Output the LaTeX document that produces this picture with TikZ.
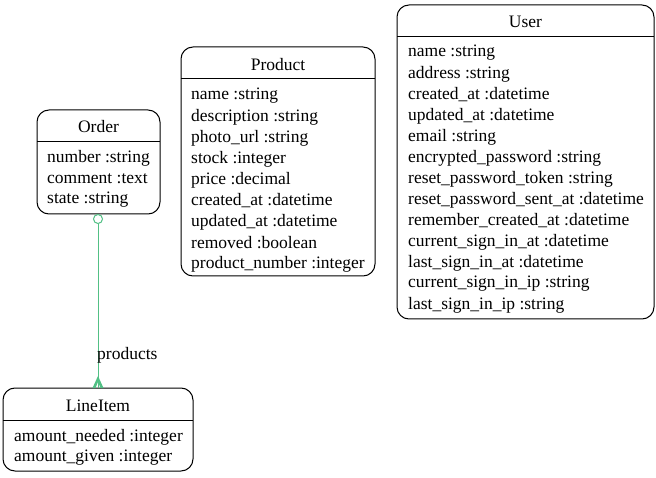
\documentclass[tikz,border=0pt]{standalone}
\usepackage{fontspec}
\setmainfont{Liberation Serif}
\definecolor{relgreen}{RGB}{82,192,133}
\begin{document}
\begin{tikzpicture}[x=1pt,y=-1pt,
  entbox/.style={draw,line width=1pt,rounded corners=12pt,inner sep=0pt},
  hdrline/.style={line width=1pt},
  ttl/.style={font=\fontsize{17.5}{19}\selectfont,inner sep=0pt},
  attr/.style={font=\fontsize{17.5}{19}\selectfont,inner sep=0pt,anchor=west},
  rel/.style={draw=relgreen,line width=1pt}]
\useasboundingbox (0,0) rectangle (656,478);

% Order
\draw[entbox] (37,110) rectangle (160,214);
\draw[hdrline] (37,142) -- (160,142);
\node[ttl] (ordert) at (98.5,127) {Order};
\node[attr] (o1) at (47,158) {number :string};
\node[attr] (o2) at (47,179) {comment :text};
\node[attr] (o3) at (47,200) {state :string};

% Product
\draw[entbox] (181,47) rectangle (375,276);
\draw[hdrline] (181,79) -- (375,79);
\node[ttl] (prodt) at (278,65) {Product};
\node[attr] (p1) at (191,96) {name :string};
\node[attr] (p2) at (191,117) {description :string};
\node[attr] (p3) at (191,138) {photo\_url :string};
\node[attr] (p4) at (191,159) {stock :integer};
\node[attr] (p5) at (191,180) {price :decimal};
\node[attr] (p6) at (191,201) {created\_at :datetime};
\node[attr] (p7) at (191,222) {updated\_at :datetime};
\node[attr] (p8) at (191,243) {removed :boolean};
\node[attr] (p9) at (191,264) {product\_number :integer};

% User
\draw[entbox] (397,5) rectangle (654,319);
\draw[hdrline] (397,37) -- (654,37);
\node[ttl] (usert) at (525.5,22) {User};
\node[attr] (u1) at (408,53) {name :string};
\node[attr] (u2) at (408,74) {address :string};
\node[attr] (u3) at (408,95) {created\_at :datetime};
\node[attr] (u4) at (408,116) {updated\_at :datetime};
\node[attr] (u5) at (408,137) {email :string};
\node[attr] (u6) at (408,158) {encrypted\_password :string};
\node[attr] (u7) at (408,179) {reset\_password\_token :string};
\node[attr] (u8) at (408,200) {reset\_password\_sent\_at :datetime};
\node[attr] (u9) at (408,221) {remember\_created\_at :datetime};
\node[attr] (u10) at (408,242) {current\_sign\_in\_at :datetime};
\node[attr] (u11) at (408,263) {last\_sign\_in\_at :datetime};
\node[attr] (u12) at (408,284) {current\_sign\_in\_ip :string};
\node[attr] (u13) at (408,305) {last\_sign\_in\_ip :string};

% LineItem
\draw[entbox] (3,388) rectangle (193,471);
\coordinate (litop) at (98,388);
\draw[hdrline] (3,420) -- (193,420);
\node[ttl] (lit) at (98,406) {LineItem};
\node[attr] (l1) at (14,437) {amount\_needed :integer};
\node[attr] (l2) at (14,458) {amount\_given :integer};

% relation
\node[draw=relgreen,line width=1pt,circle,minimum size=9pt,inner sep=0pt,fill=white] (odot) at (98,219) {};
\draw[rel] (odot.south) -- (litop);
\coordinate (crowtip) at (98,376);
\fill[relgreen] (92.5,388) -- (crowtip) -- (103.5,388) -- (100.5,388) -- (98,382) -- (95.5,388) -- cycle;
\draw[rel] (crowtip) -- (litop);
\node[attr] (lbl) at (97,355) {products};
\end{tikzpicture}
\end{document}
